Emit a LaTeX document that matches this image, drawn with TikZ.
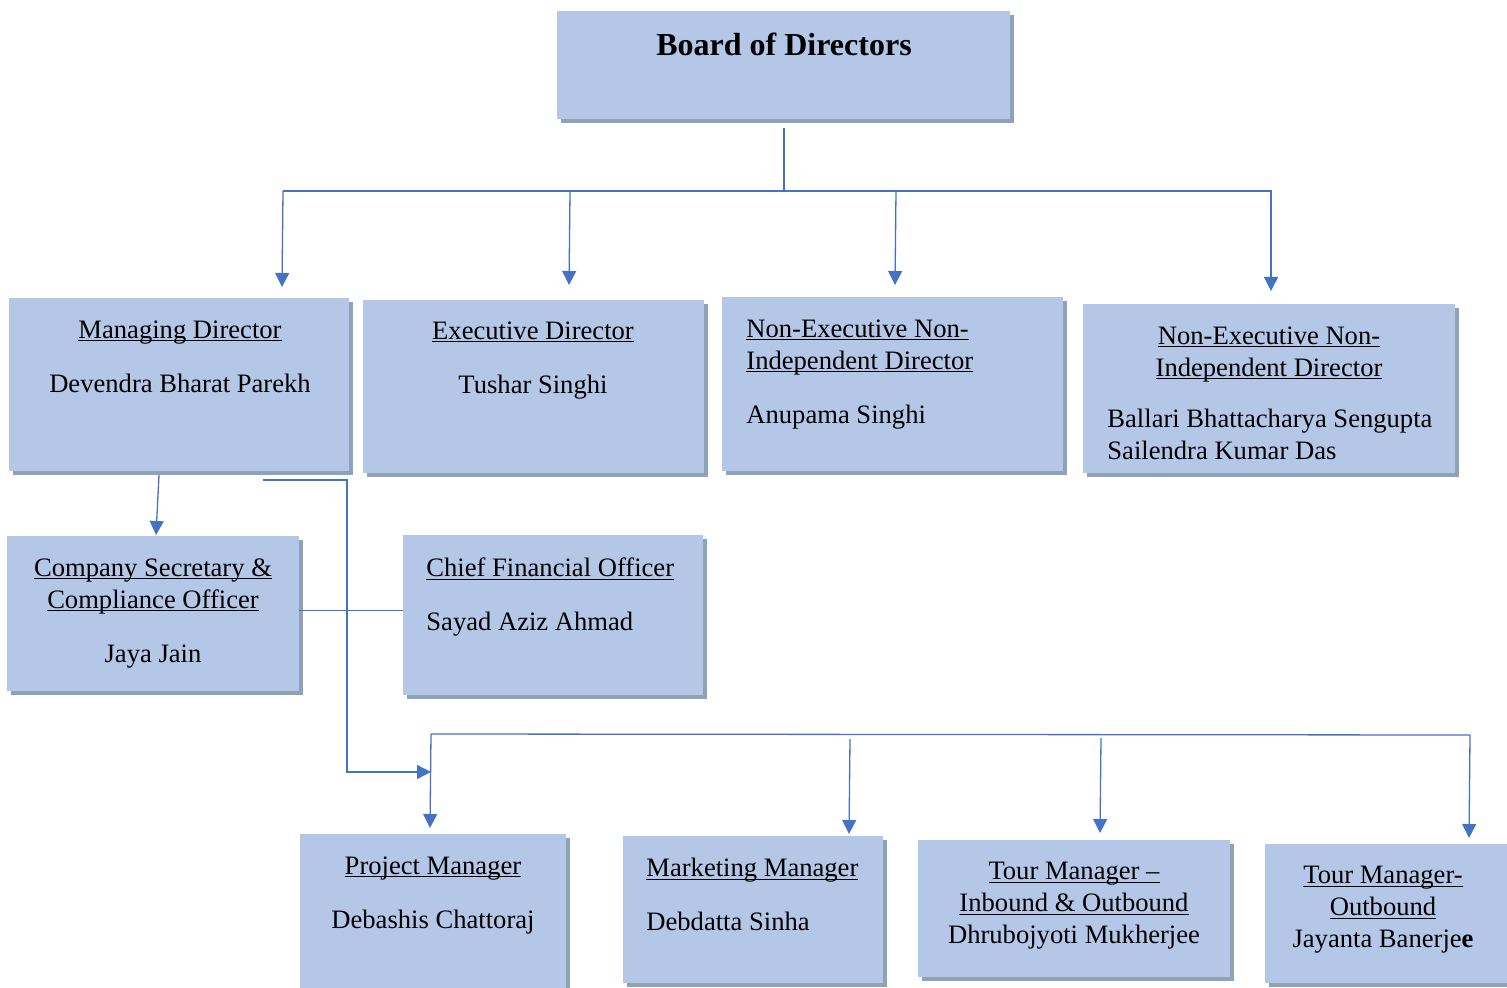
\documentclass[tikz,border=0pt]{standalone}
\usepackage{fontspec}
\setmainfont{Liberation Serif}
\usetikzlibrary{arrows.meta, shadows}
\definecolor{boxfill}{HTML}{B4C7E7}
\definecolor{boxshade}{HTML}{8FA3B8}
\definecolor{linkblue}{HTML}{4472C4}
\newcommand{\ul}[1]{\underline{\raisebox{0pt}[\height][0pt]{#1}}}
\tikzstyle{box} = [rectangle, inner sep=0pt, fill=boxfill, draw=none, drop shadow={shadow xshift=2pt, shadow yshift=-2pt, fill=boxshade, opacity=1}]
\tikzstyle{txt} = [inner sep=0pt, font=\fontsize{13.3}{16}\selectfont]
\tikzstyle{link} = [draw=linkblue, line width=0.65pt]
\tikzstyle{arrow} = [link, color=linkblue, -{Triangle[width=7pt,length=7pt]}]

\begin{document}
\begin{tikzpicture}[x=0.5pt, y=-0.5pt]
\useasboundingbox (0,0) rectangle (1507,988);

%% BOXES
\node (board) [box, minimum width=226.5pt, minimum height=54pt] at (783.5,65) {};
\node (md) [box, minimum width=170pt, minimum height=86.5pt] at (179,384.5) {};
\node (ed) [box, minimum width=170.5pt, minimum height=86.5pt] at (533.5,386.5) {};
\node (neniA) [box, minimum width=170.5pt, minimum height=87pt] at (892.5,384) {};
\node (neniB) [box, minimum width=186pt, minimum height=84.5pt] at (1269,388.5) {};
\node (cs) [box, minimum width=146pt, minimum height=77.5pt] at (153,613.5) {};
\node (cfo) [box, minimum width=150pt, minimum height=80pt] at (553,615) {};
\node (pm) [box, minimum width=133pt, minimum height=79pt] at (433,913) {};
\node (mm) [box, minimum width=130pt, minimum height=73.5pt] at (753,909.5) {};
\node (tmio) [box, minimum width=156pt, minimum height=68.5pt] at (1074,908.5) {};
\node (tmo) [box, minimum width=123pt, minimum height=69.5pt] at (1388,913.5) {};

%% TEXTS
\node (boardT) [inner sep=0pt, anchor=north, font=\fontsize{16}{19}\selectfont\bfseries] at (784,33) {Board of Directors};
\node (mdT) [txt, anchor=north, align=center] at (180,320) {\ul{Managing Director}\\[11pt]Devendra Bharat Parekh};
\node (edT) [txt, anchor=north, align=center] at (533,321) {\ul{Executive Director}\\[11pt]Tushar Singhi};
\node (neniAT) [txt, anchor=north west, align=left] at (746,319) {\ul{Non-Executive Non-}\\\ul{Independent Director}\\[11pt]Anupama Singhi};
\node (neniBT) [txt, anchor=north, align=center] at (1269,326) {\ul{Non-Executive Non-}\\\ul{Independent Director}};
\node (neniBN) [txt, anchor=north west, align=left] at (1107,409) {Ballari Bhattacharya Sengupta\\Sailendra Kumar Das};
\node (csT) [txt, anchor=north, align=center] at (153,558) {\ul{Company Secretary \&}\\\ul{Compliance Officer}\\[11pt]Jaya Jain};
\node (cfoT) [txt, anchor=north west, align=left] at (426,557) {\ul{Chief Financial Officer}\\[11pt]Sayad Aziz Ahmad};
\node (pmT) [txt, anchor=north, align=center] at (433,856) {\ul{Project Manager}\\[11pt]Debashis Chattoraj};
\node (mmT) [txt, anchor=north west, align=left] at (646,858) {\ul{Marketing Manager}\\[11pt]Debdatta Sinha};
\node (tmioT) [txt, anchor=north, align=center] at (1074,862) {\ul{Tour Manager --}\\\ul{Inbound \& Outbound}\\Dhrubojyoti Mukherjee};
\node (tmoT) [txt, anchor=north, align=center] at (1383,866) {\ul{Tour Manager-}\\\ul{Outbound}\\Jayanta Banerje\textbf{e}};

%% JOINTS
\coordinate (bdDrop) at (784,128);
\coordinate (bdBus) at (784,192);
\coordinate (busA) at (283,191);
\coordinate (busB) at (570,191);
\coordinate (busC) at (896,190);
\coordinate (busD) at (1271,190);
\coordinate (tipA) at (282,287);
\coordinate (tipB) at (569,285);
\coordinate (tipC) at (895,285);
\coordinate (tipD) at (1271,291);
\coordinate (mdDrop) at (159,475);
\coordinate (csTip) at (156,535);
\coordinate (mdRun) at (263,480);
\coordinate (elbow) at (347,772);
\coordinate (pmTip) at (431,772);
\coordinate (lbusA) at (431,734);
\coordinate (lbusB) at (850,739);
\coordinate (lbusC) at (1101,738);
\coordinate (lbusD) at (1470,735);
\coordinate (ltipA) at (430,828);
\coordinate (ltipB) at (849,834);
\coordinate (ltipC) at (1100,833);
\coordinate (ltipD) at (1469,838);

%% ARROWS
\draw [link] (bdDrop) -- (bdBus);
\draw [link] (busA) -- (1272,191);
\draw [arrow] (busA) -- (tipA);
\draw [arrow] (busB) -- (tipB);
\draw [arrow] (busC) -- (tipC);
\draw [arrow] (busD) -- (tipD);
\draw [arrow] (mdDrop) -- (csTip);
\draw [arrow] (mdRun) -| (elbow) -- (pmTip);
\draw [link] ([yshift=1.5pt]cs.east) -- ([yshift=1.5pt]cs.east -| cfo.west);
\draw [link] (lbusA) -- (lbusD);
\draw [arrow] (lbusA) -- (ltipA);
\draw [arrow] (lbusB) -- (ltipB);
\draw [arrow] (lbusC) -- (ltipC);
\draw [arrow] (lbusD) -- (ltipD);
\end{tikzpicture}
\end{document}
